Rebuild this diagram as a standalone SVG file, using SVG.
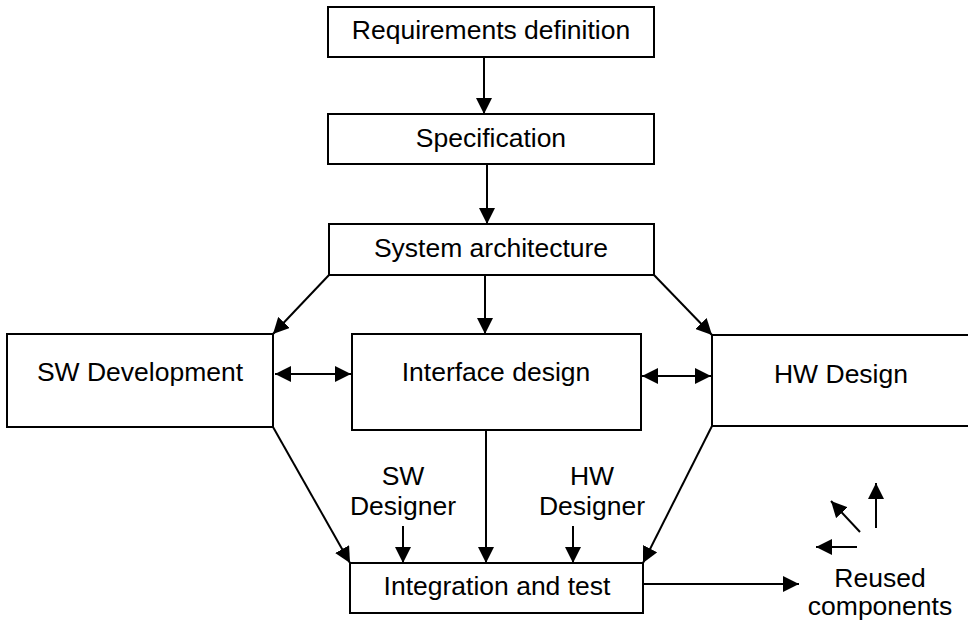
<svg xmlns="http://www.w3.org/2000/svg" width="968" height="622" viewBox="0 0 968 622">
<style>
.box{fill:#fff;stroke:#000;stroke-width:2}
.t{font-family:"Liberation Sans",Arial,sans-serif;font-size:26.5px;fill:#000;text-anchor:middle}
.c{stroke:#000;stroke-width:2;fill:none;marker-end:url(#ah)}
.d{stroke:#000;stroke-width:2;fill:none;marker-end:url(#ah);marker-start:url(#ah)}
</style>
<defs>
<marker id="ah" markerUnits="userSpaceOnUse" markerWidth="16" markerHeight="16" refX="16" refY="8" orient="auto-start-reverse">
<path d="M0,0 L16,8 L0,16 z" fill="#000"/>
</marker>
</defs>
<rect width="968" height="622" fill="#fff"/>
<g id="req"><rect class="box" x="328" y="7" width="326" height="50"/><text class="t" x="491" y="39">Requirements definition</text></g>
<g id="spec"><rect class="box" x="328" y="114" width="326" height="50"/><text class="t" x="491" y="147">Specification</text></g>
<g id="sysarch"><rect class="box" x="329" y="224" width="325" height="51"/><text class="t" x="491" y="257">System architecture</text></g>
<g id="swdev"><rect class="box" x="7" y="334" width="266" height="93"/><text class="t" x="140" y="381">SW Development</text></g>
<g id="iface"><rect class="box" x="352" y="334" width="289" height="96"/><text class="t" x="496" y="381">Interface design</text></g>
<g id="hwdes"><rect class="box" x="712" y="335" width="260" height="91"/><text class="t" x="841" y="383">HW Design</text></g>
<g id="integ"><rect class="box" x="350" y="563" width="293" height="50"/><text class="t" x="497" y="595">Integration and test</text></g>
<g id="swdesigner"><text class="t" x="403" y="485">SW</text><text class="t" x="403" y="515">Designer</text></g>
<g id="hwdesigner"><text class="t" x="592" y="485">HW</text><text class="t" x="592" y="515">Designer</text></g>
<g id="reused"><text class="t" x="880" y="587">Reused</text><text class="t" x="880" y="615">components</text></g>
<g id="connectors">
<line class="c" x1="484" y1="57" x2="484" y2="114"/>
<line class="c" x1="487" y1="164" x2="487" y2="224"/>
<line class="c" x1="329" y1="275" x2="273" y2="334"/>
<line class="c" x1="485" y1="275" x2="485" y2="334"/>
<line class="c" x1="654" y1="275" x2="712" y2="335"/>
<line class="d" x1="275" y1="374" x2="351" y2="374"/>
<line class="d" x1="642" y1="376" x2="711" y2="376"/>
<line class="c" x1="273" y1="427" x2="350" y2="563"/>
<line class="c" x1="486" y1="430" x2="486" y2="563"/>
<line class="c" x1="712" y1="426" x2="643" y2="563"/>
<line class="c" x1="403" y1="526" x2="403" y2="563"/>
<line class="c" x1="573" y1="526" x2="573" y2="563"/>
<line class="c" x1="643" y1="584" x2="799" y2="584"/>
<line class="c" x1="876" y1="528" x2="876" y2="483"/>
<line class="c" x1="860" y1="532" x2="831" y2="501"/>
<line class="c" x1="857" y1="547" x2="816" y2="547"/>
</g>
</svg>
